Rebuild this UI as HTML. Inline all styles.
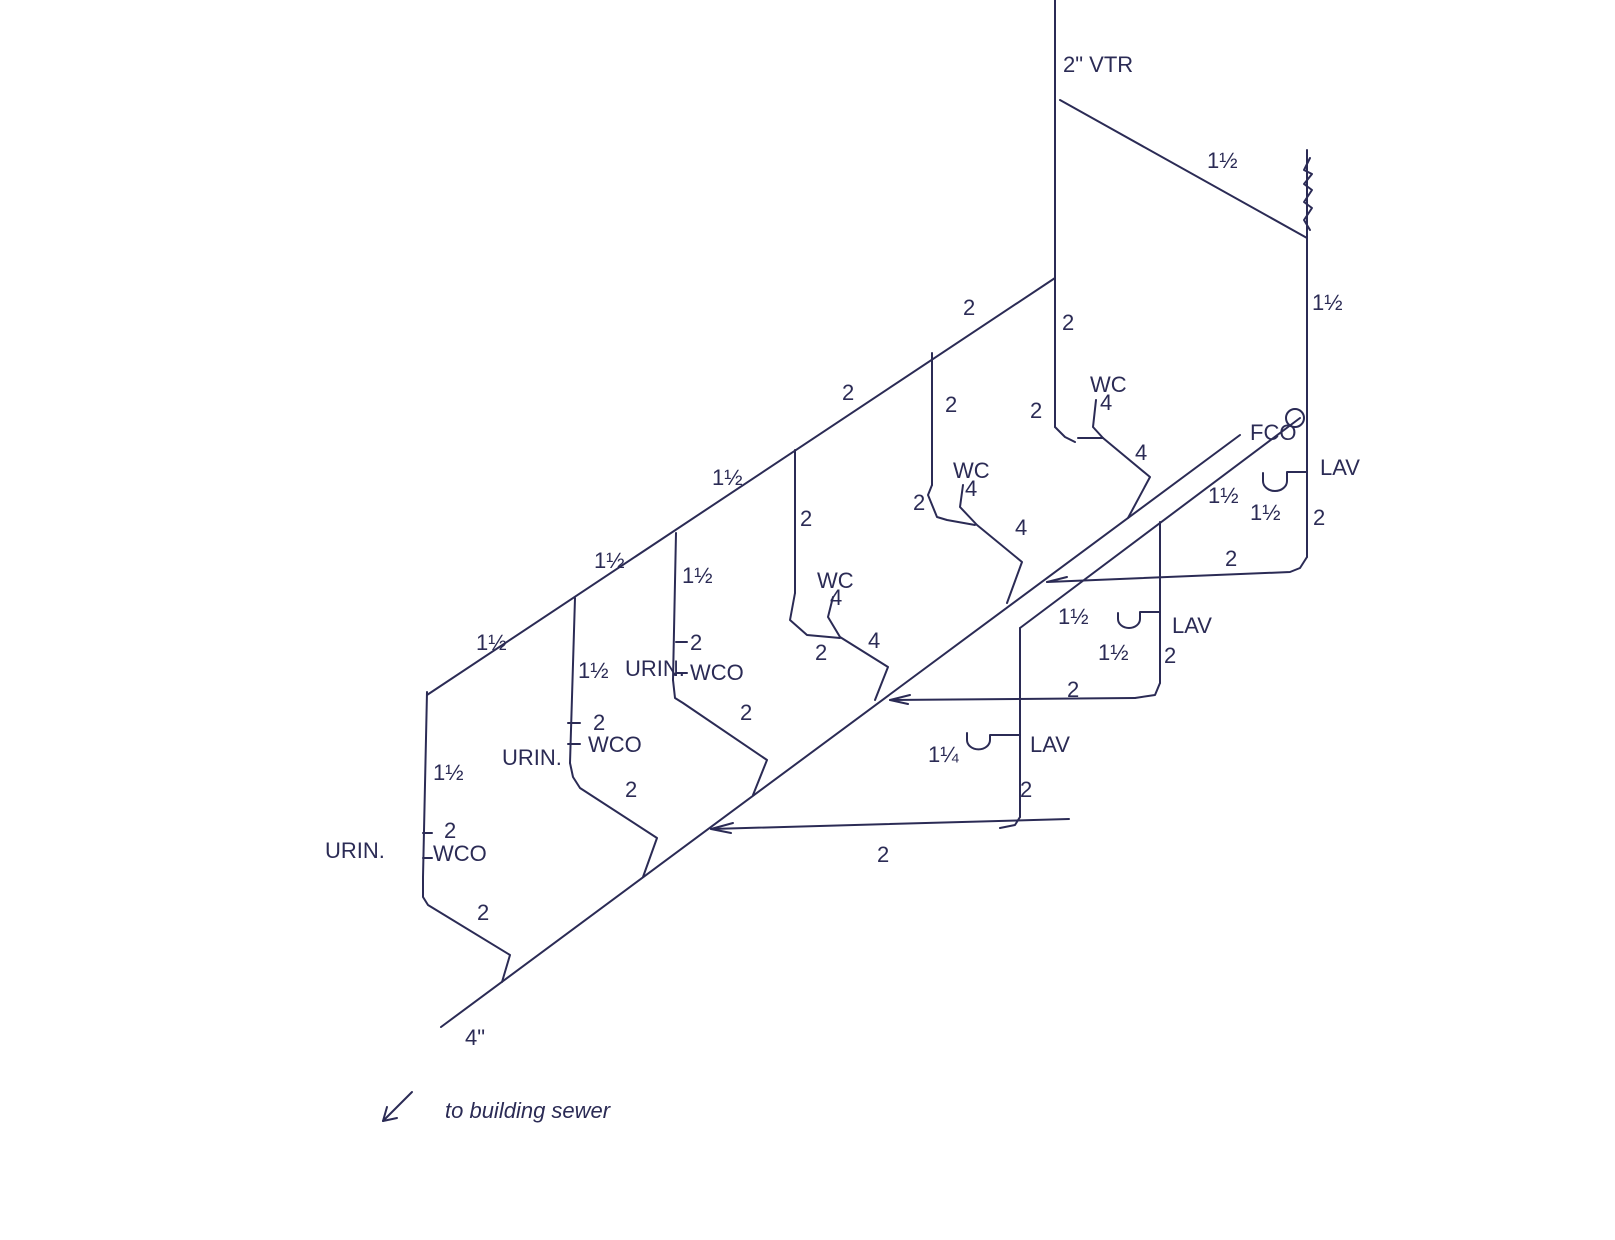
<!DOCTYPE html>
<html><head><meta charset="utf-8"><style>
html,body{margin:0;padding:0;background:#fff;}
svg{display:block;}
text{font-family:"Liberation Sans",sans-serif;fill:#2b2b55;font-size:22px;}
</style></head><body>
<svg width="1615" height="1240" viewBox="0 0 1615 1240" xmlns="http://www.w3.org/2000/svg">
<rect width="1615" height="1240" fill="#fff"/>
<g stroke="#2b2b55" stroke-width="2" fill="none" stroke-linecap="round" stroke-linejoin="round">
<!-- VTR stack -->
<line x1="1055" y1="0" x2="1055" y2="427"/>
<polyline points="1055,427 1065,437 1075,442"/>
<line x1="1078" y1="438" x2="1103" y2="438"/>
<polyline points="1096,400 1093,427 1103,438 1150,477 1128,518"/>
<!-- vent to right -->
<line x1="1060" y1="100" x2="1307" y2="238"/>
<line x1="1307" y1="150" x2="1307" y2="557"/>
<path d="M1310,158 l-6,12 l8,4 l-8,10 l8,6 l-8,12 l8,6 l-8,12 l6,10"/>
<polyline points="1307,557 1300,568 1290,572 1047,582"/>
<!-- top vent diagonal -->
<line x1="1055" y1="278" x2="427" y2="695"/>
<!-- main drain -->
<line x1="441" y1="1027" x2="1240" y2="435"/>
<!-- second parallel -->
<line x1="1300" y1="418" x2="1020" y2="628"/>
<line x1="1020" y1="628" x2="1020" y2="817"/>
<polyline points="1020,817 1015,825 1000,828"/>
<line x1="711" y1="829" x2="1069" y2="819"/>
<path d="M711,829 l22,-6 M711,829 l20,4"/>
<line x1="1160" y1="522" x2="1160" y2="683"/>
<polyline points="1160,683 1155,695 1135,698"/>
<line x1="1135" y1="698" x2="890" y2="700"/>
<path d="M890,700 l20,-5 M890,700 l18,4"/>
<path d="M1047,582 l20,-5"/>
<!-- LAV traps -->
<path d="M1263,473 v8 a12,10 0 0 0 24,0 v-9 h20"/>
<path d="M1118,613 v6 a11,9 0 0 0 22,0 v-7 h20"/>
<path d="M967,733 v7 a11,9 0 0 0 23,0 v-5 h30"/>
<!-- branch at x=932 -->
<line x1="932" y1="353" x2="932" y2="485"/>
<polyline points="932,485 928,495 937,517 947,520 975,525"/>
<polyline points="963,485 960,507 977,525 1022,562 1007,603"/>
<!-- branch at x=795 -->
<line x1="795" y1="450" x2="795" y2="593"/>
<polyline points="795,593 790,620 807,635 840,638"/>
<polyline points="833,597 828,617 840,637 888,667 875,700"/>
<!-- branch at x=676 -->
<line x1="676" y1="533" x2="673" y2="680"/>
<polyline points="673,680 675,698 683,703 767,760 753,795"/>
<line x1="676" y1="642" x2="687" y2="642"/>
<line x1="676" y1="673" x2="687" y2="673"/>
<!-- branch at x=575 -->
<line x1="575" y1="598" x2="570" y2="763"/>
<polyline points="570,763 573,777 580,788 657,838 643,877"/>
<line x1="568" y1="723" x2="580" y2="723"/>
<line x1="568" y1="744" x2="580" y2="744"/>
<!-- leftmost -->
<line x1="427" y1="692" x2="423" y2="877"/>
<polyline points="423,877 423,897 428,905 510,955 502,982"/>
<line x1="423" y1="833" x2="432" y2="833"/>
<line x1="423" y1="858" x2="432" y2="858"/>
<!-- arrow to sewer -->
<line x1="412" y1="1092" x2="383" y2="1121"/>
<path d="M383,1121 l4,-14 M383,1121 l14,-3"/>
</g>
<text x="1063" y="72" font-size="30">2" VTR</text>
<text x="1207" y="168" font-size="24">1½</text>
<text x="1312" y="310" font-size="24">1½</text>
<text x="963" y="315">2</text>
<text x="842" y="400">2</text>
<text x="712" y="485">1½</text>
<text x="594" y="568">1½</text>
<text x="476" y="650">1½</text>
<text x="1062" y="330">2</text>
<text x="1030" y="418">2</text>
<text x="1090" y="392" font-size="20">WC</text>
<text x="1100" y="410" font-size="20">4</text>
<text x="1135" y="460">4</text>
<text x="945" y="412">2</text>
<text x="913" y="510">2</text>
<text x="953" y="478" font-size="20">WC</text>
<text x="965" y="496" font-size="20">4</text>
<text x="1015" y="535">4</text>
<text x="800" y="526">2</text>
<text x="817" y="588" font-size="20">WC</text>
<text x="830" y="605" font-size="20">4</text>
<text x="815" y="660">2</text>
<text x="868" y="648">4</text>
<text x="682" y="583">1½</text>
<text x="578" y="678">1½</text>
<text x="625" y="676" font-size="20">URIN.</text>
<text x="690" y="650" font-size="20">2</text>
<text x="690" y="680" font-size="20">WCO</text>
<text x="740" y="720">2</text>
<text x="593" y="730" font-size="20">2</text>
<text x="588" y="752" font-size="20">WCO</text>
<text x="502" y="765" font-size="20">URIN.</text>
<text x="433" y="780">1½</text>
<text x="625" y="797">2</text>
<text x="325" y="858" font-size="20">URIN.</text>
<text x="444" y="838" font-size="20">2</text>
<text x="433" y="861" font-size="20">WCO</text>
<text x="477" y="920">2</text>
<text x="465" y="1045" font-size="26">4"</text>
<text x="445" y="1118" font-size="28" font-style="italic">to building sewer</text>
<text x="1250" y="440" font-size="26">FCO</text>
<circle cx="1295" cy="418" r="9" fill="none" stroke="#2b2b55" stroke-width="2"/>
<text x="1320" y="475">LAV</text>
<text x="1208" y="503">1½</text>
<text x="1250" y="520">1½</text>
<text x="1313" y="525">2</text>
<text x="1225" y="566">2</text>
<text x="1172" y="633">LAV</text>
<text x="1058" y="624">1½</text>
<text x="1098" y="660">1½</text>
<text x="1164" y="663">2</text>
<text x="1067" y="697">2</text>
<text x="1030" y="752">LAV</text>
<text x="928" y="762">1¼</text>
<text x="1020" y="797">2</text>
<text x="877" y="862">2</text>
</svg>
</body></html>
